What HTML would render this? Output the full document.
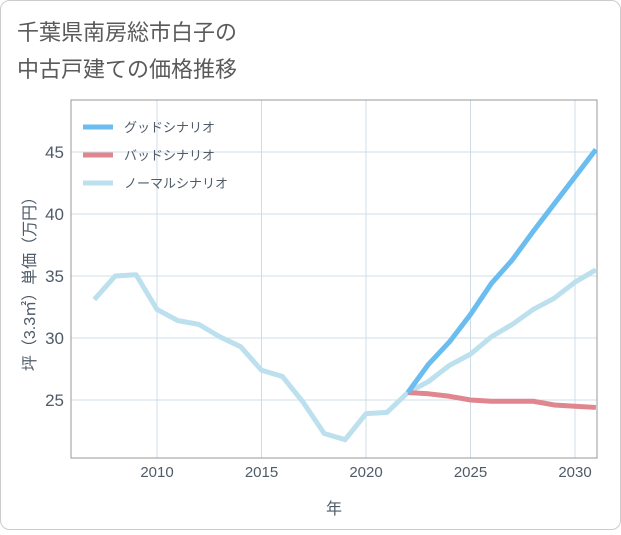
<!DOCTYPE html>
<html><head><meta charset="utf-8"><style>
body{margin:0;background:#fff;font-family:"Liberation Sans","Noto Sans CJK JP",sans-serif}
#wrap{position:relative;width:621px;height:530px}
</style></head><body>
<div id="wrap">
<svg id="chart" width="621" height="530" xmlns="http://www.w3.org/2000/svg">
<rect x="0.5" y="0.5" width="620" height="529" rx="9" fill="#fff" stroke="#ccc"/>
<text x="17" y="40" font-size="22" fill="#5a5a5a" font-family="Liberation Sans,Noto Sans CJK JP,sans-serif">千葉県南房総市白子の</text>
<text x="17" y="77" font-size="22" fill="#5a5a5a" font-family="Liberation Sans,Noto Sans CJK JP,sans-serif">中古戸建ての価格推移</text>
<g id="grid"></g><g id="axes"></g><g id="series"></g><g id="legend"></g>
</svg>
</div>
<script>
const years=[2007,2008,2009,2010,2011,2012,2013,2014,2015,2016,2017,2018,2019,2020,2021,2022,2023,2024,2025,2026,2027,2028,2029,2030,2031];
const normalValues=[33.1,35.0,35.1,32.3,31.4,31.1,30.1,29.3,27.4,26.9,24.8,22.3,21.8,23.9,24.0,25.6,26.5,27.8,28.7,30.1,31.1,32.3,33.2,34.5,35.5];
const futureYears=[2022,2023,2024,2025,2026,2027,2028,2029,2030,2031];
const goodValues=[25.6,27.9,29.7,31.9,34.4,36.3,38.6,40.8,43.0,45.2];
const badValues=[25.6,25.5,25.3,25.0,24.9,24.9,24.9,24.6,24.5,24.4];
const xTicks=[2010,2015,2020,2025,2030];
const yTicks=[25,30,35,40,45];
const NS="http://www.w3.org/2000/svg";
const L=71,R=597,T=100,B=458;
const x=v=>157+(v-2010)*20.9;
const y=v=>400-(v-25)*12.4;
function mk(tag,attrs,parent){const e=document.createElementNS(NS,tag);for(const k in attrs)e.setAttribute(k,attrs[k]);parent.appendChild(e);return e;}
const grid=document.getElementById('grid'),axes=document.getElementById('axes'),series=document.getElementById('series'),legend=document.getElementById('legend');
for(const t of xTicks){
const l=mk('line',{x1:x(t),x2:x(t),y1:T,y2:B,stroke:'#cfdce8'},grid);


const tx=mk('text',{x:x(t),y:477,'text-anchor':'middle','font-size':15,fill:'#4f5b68'},axes);
tx.textContent=t;


}
for(const t of yTicks){
const l=mk('line',{x1:L,x2:R,y1:y(t),y2:y(t),stroke:'#cfdce8'},grid);


const tx=mk('text',{x:64,y:y(t)+6,'text-anchor':'end','font-size':17,fill:'#4f5b68'},axes);
tx.textContent=t;


}
const ax=mk('path',{d:`M${L} ${T}V${B}H${R}V${T}Z`,fill:'none',stroke:'#999'},axes);


const xt=mk('text',{x:334,y:514,'text-anchor':'middle','font-size':16,fill:'#4f5b68'},axes);
xt.textContent='年';


const yt=mk('text',{transform:'translate(35 280) rotate(-90)','text-anchor':'middle','font-size':16,fill:'#4f5b68'},axes);
yt.textContent='坪（3.3㎡）単価（万円）';


function line(xs,vs,color,name){
const d=xs.map((a,i)=>(i?'L':'M')+x(a)+' '+y(vs[i])).join('');
const p=mk('path',{d:d,fill:'none',stroke:color,'stroke-width':5,'stroke-linejoin':'round'},series);


}
line(years,normalValues,'#bde0ee','normal-scenario-line');
line(futureYears,badValues,'#e0868f','bad-scenario-line');
line(futureYears,goodValues,'#6bbdf0','good-scenario-line');
const items=[['グッドシナリオ','#6bbdf0',127],['バッドシナリオ','#e0868f',155],['ノーマルシナリオ','#bde0ee',183]];
for(const [lab,c,yy] of items){
const l=mk('line',{x1:83,x2:113,y1:yy,y2:yy,stroke:c,'stroke-width':5},legend);


const t=mk('text',{x:124,y:yy+5,'font-size':13,fill:'#4f5b68'},legend);
t.textContent=lab;


}
</script>
</body></html>
